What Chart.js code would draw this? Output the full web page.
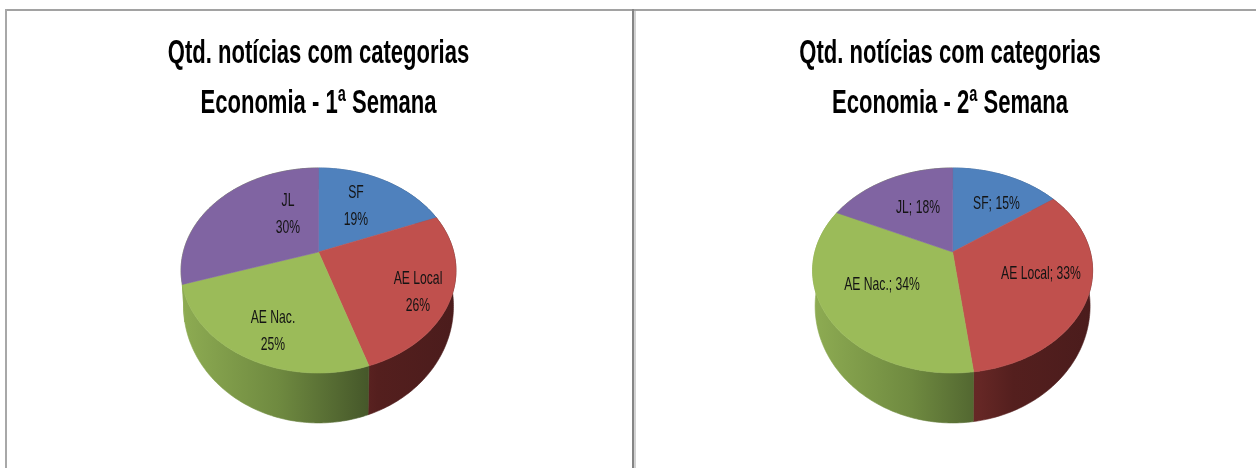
<!DOCTYPE html>
<html>
<head>
<meta charset="utf-8">
<script src="https://cdn.jsdelivr.net/npm/chart.js@4"></script>
<style>
  html, body { margin: 0; background: #fff; overflow: hidden; width: 1256px; height: 468px; }
  canvas { position: absolute; top: 0; filter: blur(0.35px); }
  .rule { position: absolute; }
</style>
</head>
<body>
<div class="rule" style="left:5px;top:9px;width:1251px;height:2px;background:#a2a2a2"></div>
<div class="rule" style="left:5px;top:9px;width:2px;height:459px;background:#a8a8a8"></div>
<div class="rule" style="left:632px;top:9px;width:2px;height:459px;background:#858585"></div>
<div class="rule" style="left:634px;top:11px;width:2px;height:457px;background:#d2d2d2"></div>
<canvas id="week1" style="left:0"></canvas>
<canvas id="week2" style="left:630px"></canvas>
<script>
// Data
const categories = ['SF', 'AE Local', 'AE Nac.', 'JL'];
const week1Values = [19, 26, 25, 30];
const week2Values = [15, 33, 34, 18];
const titleLine1 = 'Qtd. notícias com categorias';
const week1Title = 'Economia - 1ª Semana';
const week2Title = 'Economia - 2ª Semana';

const topColors = ['#4f81bd', '#c0504d', '#9bbb59', '#8064a2'];
const greenWall = [[0, '#8dab52'], [0.35, '#6f8a40'], [0.68, '#46582a'], [1, '#3c4a22']];
const wallStops = [
    [[0, '#6f93c4'], [1, '#24405f']],
    [[0, '#7a2f2d'], [0.6, '#652725'], [0.72, '#541f1e'], [1, '#4b1c1c']],
    greenWall,
    greenWall // JL wall only peeks out at the far left, the original shows green there
];

// Perspective of the pie (same for both panels)
const PERSPECTIVE = 0.1805;
const FACE_DEPTH = 99.16;
const WALL_X = 0.982;
const WALL_Y = 1.14;
const WALL_DROP = 33;

function project(arc, angle, sx, sy, drop) {
    const u = Math.cos(angle), v = Math.sin(angle);
    const d = 1 - PERSPECTIVE * v;
    return [
        arc.x + arc.outerRadius * sx * u / d,
        arc.y + drop + FACE_DEPTH * sy * v / d
    ];
}

function arcPoints(arc, sx, sy, drop) {
    const pts = [];
    const steps = Math.ceil((arc.endAngle - arc.startAngle) * 60);
    for (let i = 0; i <= steps; i++) {
        const a = arc.startAngle + (arc.endAngle - arc.startAngle) * i / steps;
        pts.push(project(arc, a, sx, sy, drop));
    }
    return pts;
}

function fillPath(ctx, pts, fill) {
    ctx.beginPath();
    pts.forEach((p, i) => i ? ctx.lineTo(p[0], p[1]) : ctx.moveTo(p[0], p[1]));
    ctx.closePath();
    ctx.fillStyle = fill;
    ctx.strokeStyle = fill;
    ctx.lineWidth = 0.6;
    ctx.fill();
    ctx.stroke();
}

function squeezed(ctx, text, x, baseline, font, scaleX, color) {
    ctx.save();
    ctx.font = font;
    ctx.fillStyle = color;
    ctx.textAlign = 'center';
    ctx.textBaseline = 'alphabetic';
    ctx.translate(x, baseline);
    ctx.scale(scaleX, 1);
    ctx.fillText(text, 0, 0);
    ctx.restore();
}

const pie3d = {
    id: 'pie3d',
    beforeDatasetsDraw(chart) {
        const ctx = chart.ctx;
        const arcs = chart.getDatasetMeta(0).data;
        const o = chart.options.plugins.pie3d;
        const cx = arcs[0].x, R = arcs[0].outerRadius;

        // side wall first, top face goes over it
        arcs.forEach((arc, i) => {
            const grad = ctx.createLinearGradient(cx - R, 0, cx + R, 0);
            wallStops[i].forEach(s => grad.addColorStop(s[0], s[1]));
            const top = arcPoints(arc, 1, 1, 0);
            const bottom = arcPoints(arc, WALL_X, WALL_Y, WALL_DROP).reverse();
            fillPath(ctx, top.concat(bottom), grad);
        });
        arcs.forEach((arc, i) => {
            fillPath(ctx, [[arc.x, arc.y]].concat(arcPoints(arc, 1, 1, 0)), topColors[i]);
        });

        // data labels
        const labelFont = '19px "Liberation Sans Narrow", "Liberation Sans"';
        chart.data.labels.forEach((name, i) => {
            const p = o.labelPos[i];
            const value = chart.data.datasets[0].data[i] + '%';
            if (o.twoLines) {
                squeezed(ctx, name, p[0], p[1] - 7, labelFont, 0.64, '#141414');
                squeezed(ctx, value, p[0], p[1] + 20, labelFont, 0.64, '#141414');
            } else {
                squeezed(ctx, name + '; ' + value, p[0], p[1] + 7, labelFont, 0.64, '#141414');
            }
        });
        return false;
    },
    afterDraw(chart) {
        const o = chart.options.plugins.pie3d;
        const font = 'bold 33px "Liberation Sans Narrow", "Liberation Sans"';
        squeezed(chart.ctx, o.title[0], o.titleX, 63, font, 0.668, '#000');
        squeezed(chart.ctx, o.title[1], o.titleX, 113, font, 0.668, '#000');
    }
};

function drawPie(id, values, width, padding, extra) {
    const canvas = document.getElementById(id);
    canvas.width = width;
    canvas.height = 468;
    new Chart(canvas, {
        type: 'pie',
        data: {
            labels: categories,
            datasets: [{ data: values, backgroundColor: topColors, borderWidth: 0 }]
        },
        options: {
            responsive: false,
            animation: false,
            layout: { padding },
            plugins: { legend: { display: false }, tooltip: { enabled: false }, pie3d: extra }
        },
        plugins: [pie3d]
    });
}

drawPie('week1', week1Values, 630,
    { left: 183.3, right: 176.3, top: 116.8, bottom: 80.8 },
    {
        title: [titleLine1, week1Title],
        titleX: 318.5,
        twoLines: true,
        labelPos: [[356, 205], [418, 291], [273, 330], [288, 213]]
    });

drawPie('week2', week2Values, 626,
    { left: 184.9, right: 165.7, top: 114.3, bottom: 78.3 },
    {
        title: [titleLine1, week2Title],
        titleX: 320,
        twoLines: false,
        labelPos: [[366.4, 202], [411, 272], [252, 283], [288, 206]]
    });
</script>
</body>
</html>
